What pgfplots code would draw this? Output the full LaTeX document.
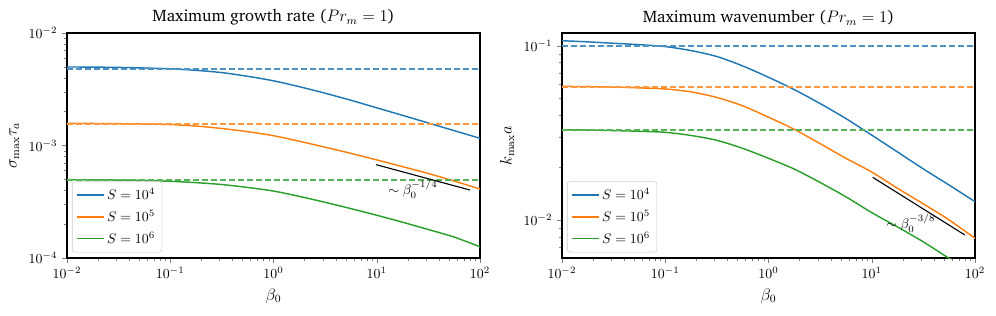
\documentclass[border=0pt]{standalone}
\usepackage[T1]{fontenc}
\usepackage{charter}
\usepackage{pgfplots}
\pgfplotsset{compat=1.18}
\definecolor{tabblue}{HTML}{1F77B4}
\definecolor{taborange}{HTML}{FF7F0E}
\definecolor{tabgreen}{HTML}{2CA02C}
\colorlet{dblue}{tabblue!80!white}
\colorlet{dorange}{taborange!80!white}
\colorlet{dgreen}{tabgreen!80!white}
\begin{document}
\begin{tikzpicture}
\useasboundingbox (-0.67in,-0.58in) rectangle (9.29in,2.58in);
\begin{axis}[at={(0,0)}, anchor=south west,
  scale only axis, width=4.13in, height=2.25in,
  xmode=log, ymode=log, xmin=1e-2, xmax=1e2,
  ymin=1e-4, ymax=1e-2,
  axis line style={line width=0.8pt},
  tick align=outside, tick pos=left,
  major tick length=3.5pt, minor tick length=2pt,
  title style={font=\fontsize{12}{14}\selectfont, yshift=-4pt},
  label style={font=\fontsize{12}{14}\selectfont},
  ticklabel style={font=\fontsize{10}{12}\selectfont},
  xlabel={$\beta_0$},
  legend cell align=left,
  legend image code/.code={\draw[#1, line width=1.3pt] (0pt,0pt) -- (19pt,0pt);},
  legend style={at={(0.012,0.025)}, anchor=south west, rounded corners=2pt,
      draw=black!20, fill=white, font=\fontsize{10}{12}\selectfont,
      row sep=2pt, inner ysep=3pt},
  title={Maximum growth rate ($Pr_m = 1$)},
  ylabel={$\sigma_{\max}\tau_a$}]
\addplot[tabblue, line width=1.05pt, smooth] coordinates {(0.01,4.989e-3) (0.01778,4.977e-3) (0.03162,4.943e-3) (0.05623,4.887e-3) (0.1,4.808e-3) (0.1778,4.656e-3) (0.3162,4.446e-3) (0.5623,4.121e-3) (1,3.758e-3) (1.778,3.334e-3) (3.162,2.917e-3) (5.623,2.523e-3) (10,2.163e-3) (17.78,1.854e-3) (31.62,1.585e-3) (56.23,1.355e-3) (100,1.159e-3)};
\addlegendentry{$S = 10^4$}
\addplot[taborange, line width=1.05pt, smooth] coordinates {(0.01,1.574e-3) (0.01778,1.570e-3) (0.03162,1.563e-3) (0.05623,1.552e-3) (0.1,1.535e-3) (0.1778,1.489e-3) (0.3162,1.416e-3) (0.5623,1.327e-3) (1,1.2218e-3) (1.778,1.091e-3) (3.162,9.66e-4) (5.623,8.511e-4) (10,7.447e-4) (17.78,6.486e-4) (31.62,5.636e-4) (56.23,4.831e-4) (100,4.102e-4)};
\addlegendentry{$S = 10^5$}
\addplot[tabgreen, line width=1.05pt, smooth] coordinates {(0.01,4.966e-4) (0.01778,4.955e-4) (0.03162,4.932e-4) (0.05623,4.887e-4) (0.1,4.808e-4) (0.1778,4.677e-4) (0.3162,4.498e-4) (0.5623,4.236e-4) (1,3.936e-4) (1.778,3.532e-4) (3.162,3.126e-4) (5.623,2.748e-4) (10,2.399e-4) (17.78,2.080e-4) (31.62,1.791e-4) (56.23,1.535e-4) (100,1.259e-4)};
\addlegendentry{$S = 10^6$}
\addplot[dblue, line width=1.3pt, dash pattern=on 4.5pt off 2pt, forget plot] coordinates {(0.01,4.79e-3) (100,4.79e-3)};
\addplot[dorange, line width=1.3pt, dash pattern=on 4.5pt off 2pt, forget plot] coordinates {(0.01,1.56e-3) (100,1.56e-3)};
\addplot[dgreen, line width=1.3pt, dash pattern=on 4.5pt off 2pt, forget plot] coordinates {(0.01,4.92e-4) (100,4.92e-4)};
\addplot[black, line width=0.8pt, forget plot] coordinates {(9.84,6.76e-4) (80,4.02e-4)};
\node[font=\fontsize{10}{12}\selectfont] at (axis cs:22.4,4.1e-4) {$\sim\beta_0^{-1/4}$};
\end{axis}
\begin{axis}[at={(4.95in,0)}, anchor=south west,
  scale only axis, width=4.13in, height=2.25in,
  xmode=log, ymode=log, xmin=1e-2, xmax=1e2,
  ymin=6.05e-3, ymax=0.1183,
  axis line style={line width=0.8pt},
  tick align=outside, tick pos=left,
  major tick length=3.5pt, minor tick length=2pt,
  title style={font=\fontsize{12}{14}\selectfont, yshift=-4pt},
  label style={font=\fontsize{12}{14}\selectfont},
  ticklabel style={font=\fontsize{10}{12}\selectfont},
  xlabel={$\beta_0$},
  legend cell align=left,
  legend image code/.code={\draw[#1, line width=1.3pt] (0pt,0pt) -- (19pt,0pt);},
  legend style={at={(0.012,0.025)}, anchor=south west, rounded corners=2pt,
      draw=black!20, fill=white, font=\fontsize{10}{12}\selectfont,
      row sep=2pt, inner ysep=3pt},
  title={Maximum wavenumber ($Pr_m = 1$)},
  ylabel={$k_{\max}a$}]
\addplot[tabblue, line width=1.05pt, smooth] coordinates {(0.01,0.1069) (0.01778,0.1052) (0.03162,0.1033) (0.05623,0.1014) (0.1,0.09886) (0.1778,0.09376) (0.3162,0.0867) (0.5623,0.07656) (1,0.0659) (1.778,0.05598) (3.162,0.04656) (5.623,0.03819) (10,0.03069) (17.78,0.02455) (31.62,0.01963) (56.23,0.01585) (100,0.012735)};
\addlegendentry{$S = 10^4$}
\addplot[taborange, line width=1.05pt, smooth] coordinates {(0.01,0.05848) (0.01778,0.05821) (0.03162,0.05794) (0.05623,0.05728) (0.1,0.05649) (0.1778,0.05433) (0.3162,0.05047) (0.5623,0.04519) (1,0.0389) (1.778,0.03311) (3.162,0.02742) (5.623,0.02259) (10,0.01884) (17.78,0.0152) (31.62,0.01236) (56.23,0.01) (100,7.852e-3)};
\addlegendentry{$S = 10^5$}
\addplot[tabgreen, line width=1.05pt, smooth] coordinates {(0.01,0.03296) (0.01778,0.03281) (0.03162,0.03258) (0.05623,0.03228) (0.1,0.03184) (0.1778,0.03055) (0.3162,0.02864) (0.5623,0.02576) (1,0.02259) (1.778,0.01959) (3.162,0.01641) (5.623,0.01358) (10,0.01102) (17.78,9.12e-3) (31.62,7.482e-3) (56.23,6.012e-3) (63.1,5.75e-3)};
\addlegendentry{$S = 10^6$}
\addplot[dblue, line width=1.3pt, dash pattern=on 4.5pt off 2pt, forget plot] coordinates {(0.01,0.1) (100,0.1)};
\addplot[dorange, line width=1.3pt, dash pattern=on 4.5pt off 2pt, forget plot] coordinates {(0.01,0.0579) (100,0.0579)};
\addplot[dgreen, line width=1.3pt, dash pattern=on 4.5pt off 2pt, forget plot] coordinates {(0.01,0.033) (100,0.033)};
\addplot[black, line width=0.8pt, forget plot] coordinates {(10.2,0.01758) (79.8,0.0082)};
\node[font=\fontsize{10}{12}\selectfont] at (axis cs:23.8,9.57e-3) {$\sim\beta_0^{-3/8}$};
\end{axis}
\end{tikzpicture}
\end{document}
